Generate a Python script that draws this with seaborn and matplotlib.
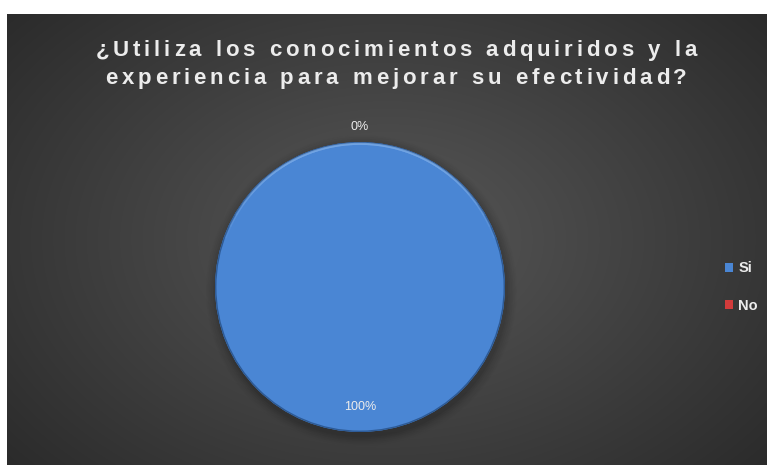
import numpy as np
import matplotlib
matplotlib.use("Agg")
import matplotlib.pyplot as plt
from matplotlib.patches import Patch, Circle
import seaborn as sns

# Survey answers
categories = ["Si", "No"]
percentages = [100, 0]
title_lines = ["¿Utiliza los conocimientos adquiridos y la",
               "experiencia para mejorar su efectividad?"]

slice_colors = ["#4a86d4", "#d23b3b"]
text_color = "#ececec"

sns.set_theme(style="dark")
plt.rcParams["font.family"] = ["Liberation Sans", "DejaVu Sans"]

W, H = 767, 465
fig = plt.figure(figsize=(W / 100, H / 100), dpi=100)
fig.patch.set_facecolor("white")

# Dark chart area with a soft radial gradient
bg = fig.add_axes([7 / W, 0, (W - 7) / W, (H - 14) / H])
bg.set_axis_off()
yy, xx = np.mgrid[0:300, 0:500]
cx, cy = 250, 150
r = np.sqrt(((xx - cx) / 330.0) ** 2 + ((yy - cy) / 230.0) ** 2)
r = np.clip(r, 0, 1)
inner = np.array([0x58, 0x58, 0x58]) / 255
outer = np.array([0x2b, 0x2b, 0x2b]) / 255
img = inner[None, None, :] * (1 - r[..., None]) + outer[None, None, :] * r[..., None]
bg.imshow(img, aspect="auto", extent=[0, 1, 0, 1], interpolation="bicubic")
bg.set_xlim(0, 1)
bg.set_ylim(0, 1)

# Title with extra letter spacing, one glyph at a time
renderer = fig.canvas.get_renderer()
title_kw = dict(fontsize=16, fontweight="bold", color=text_color,
                va="baseline", ha="left")
tracking = 3.8  # px between letters
for line, y_px in zip(title_lines, [56, 84]):
    widths = []
    for ch in line:
        t = fig.text(0, 0, ch if ch != " " else "n", **title_kw)
        w = t.get_window_extent(renderer).width
        if ch == " ":
            w *= 0.5
        widths.append(w)
        t.remove()
    total = sum(widths) + tracking * (len(line) - 1)
    x = 396 - total / 2
    for ch, w in zip(line, widths):
        if ch != " ":
            fig.text(x / W, 1 - y_px / H, ch, **title_kw)
        x += w + tracking

# Pie
cxp, cyp, rad = 360, 287, 145
ax = fig.add_axes([(cxp - rad) / W, (H - cyp - rad) / H, 2 * rad / W, 2 * rad / H])
ax.set_axis_off()
ax.set_aspect("equal")

# soft shadow under the pie
for k, a in enumerate(np.linspace(0.05, 0.015, 6)):
    ax.add_patch(Circle((0.01, -0.025), 1.0 + 0.012 * (k + 1), color="black",
                        alpha=a, zorder=0, lw=0, clip_on=False))

wedges, _ = ax.pie(percentages, colors=slice_colors, startangle=90,
                   counterclock=False, radius=1.0,
                   wedgeprops=dict(linewidth=0))
for w in wedges:
    w.set_zorder(2)
    w.set_clip_on(False)

# rim: light on top, darker below
ax.add_patch(Circle((0, 0), 0.995, fill=False, ec="#2d5a95", lw=1.0,
                    zorder=3, clip_on=False))
for k in range(8):
    ang = 20 + k * 5
    ax.add_patch(matplotlib.patches.Arc((0, 0), 1.975, 1.975, theta1=ang,
                                        theta2=180 - ang, color="#8ab8f0",
                                        lw=1.6, alpha=0.12, zorder=3))

# value labels at each slice's mid-angle
for w, v in zip(wedges, percentages):
    mid = np.deg2rad((w.theta1 + w.theta2) / 2)
    dist = 0.83 if v > 0 else 1.1
    ax.text(dist * np.cos(mid), dist * np.sin(mid), f"{v}%", ha="center",
            va="center", fontsize=9, color=text_color, zorder=4)

ax.set_xlim(-1.0, 1.0)
ax.set_ylim(-1.0, 1.0)

# Legend
handles = [Patch(facecolor=c, edgecolor="none", label=l)
           for c, l in zip(slice_colors, categories)]
leg = fig.legend(handles=handles, loc="center left",
                 bbox_to_anchor=(725 / W, 1 - 287 / H), frameon=False,
                 borderpad=0, borderaxespad=0,
                 handlelength=0.55, handleheight=0.55, handletextpad=0.35,
                 labelspacing=1.6, prop=dict(size=10.5, weight="bold"))
for t in leg.get_texts():
    t.set_color(text_color)

fig.savefig("out.png", dpi=100, facecolor=fig.get_facecolor())
